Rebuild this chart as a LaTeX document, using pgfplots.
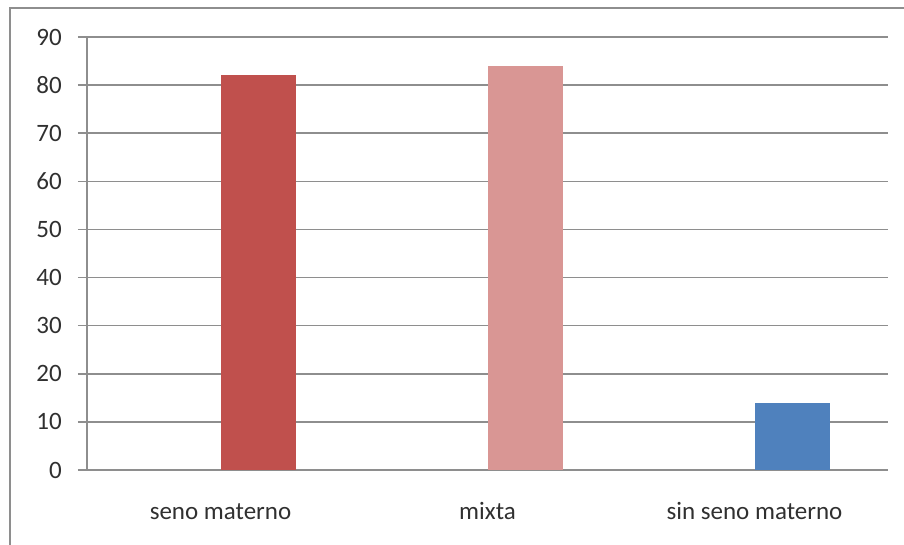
\documentclass[border=0pt]{standalone}
\usepackage{fontspec}
\setmainfont{Carlito}
\usepackage{pgfplots}
\pgfplotsset{compat=1.18}
\definecolor{gridgray}{HTML}{8E8E8E}
\definecolor{textgray}{HTML}{303030}
\definecolor{barred}{HTML}{C0504D}
\definecolor{barpink}{HTML}{D99694}
\definecolor{barblue}{HTML}{4F81BD}
\begin{document}
\begin{tikzpicture}[x=1pt,y=1pt]
\useasboundingbox (0,0) rectangle (904,544);
% outer chart frame
\draw[gridgray, line width=2pt] (10,-5) -- (10,536) -- (912,536);
\begin{axis}[
  at={(87pt,74pt)}, anchor=south west,
  scale only axis, width=801pt, height=433pt,
  xmin=-0.5, xmax=2.5, ymin=0, ymax=90,
  axis lines*=left,
  axis line style={gridgray, line width=1.5pt},
  ytick={0,10,...,90},
  ymajorgrids,
  grid style={gridgray, line width=1.5pt},
  tick align=outside,
  major tick length=9pt,
  tick style={gridgray, line width=1.5pt},
  xtick={0,1,2},
  xticklabels={seno materno, mixta, sin seno materno},
  xtick style={draw=none},
  extra x ticks={-0.5,0.5,1.5,2.5},
  extra x tick labels={},
  extra x tick style={tick style={gridgray, line width=1.5pt}},
  /pgf/number format/assume math mode=true,
  ticklabel style={font=\fontsize{25}{30}\selectfont, text=textgray},
  yticklabel style={inner sep=0pt, anchor=east, xshift=-16pt},
  xticklabel style={inner sep=0pt, anchor=base, yshift=-40pt},
  clip=false,
]
\addplot[ybar, fill=barred, draw=none, bar width=0.283, bar shift=0.1415] coordinates {(0,82)};
\addplot[ybar, fill=barpink, draw=none, bar width=0.283, bar shift=0.1415] coordinates {(1,84)};
\addplot[ybar, fill=barblue, draw=none, bar width=0.283, bar shift=0.1415] coordinates {(2,14)};
\end{axis}
\end{tikzpicture}
\end{document}
